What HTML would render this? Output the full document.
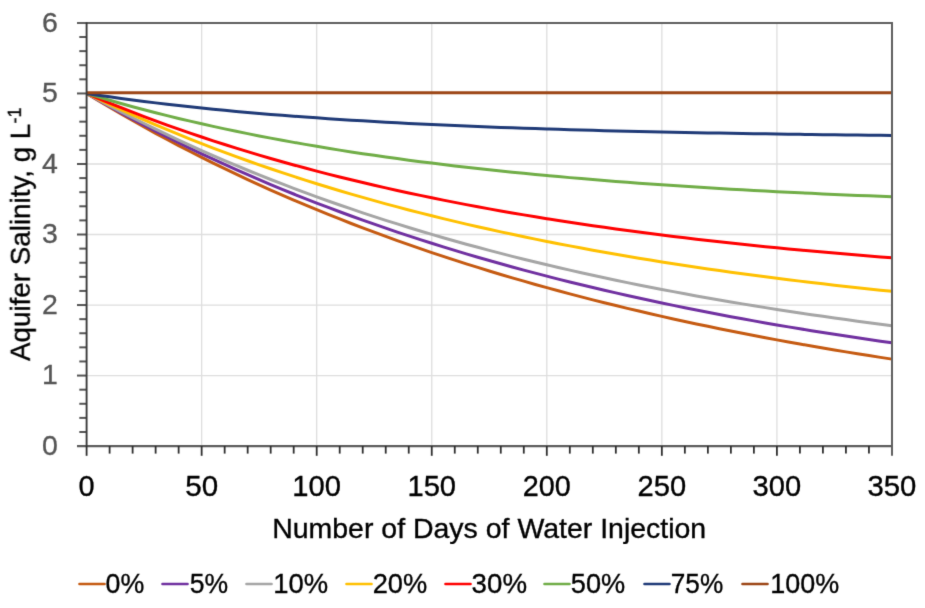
<!DOCTYPE html>
<html><head><meta charset="utf-8"><style>
html,body{margin:0;padding:0;background:#fff;}
svg{display:block;}
text{font-family:"Liberation Sans",sans-serif;}
</style></head><body>
<svg width="925" height="608" viewBox="0 0 925 608">
<defs><filter id="b" x="0" y="0" width="925" height="608" filterUnits="userSpaceOnUse"><feConvolveMatrix color-interpolation-filters="sRGB" order="3" targetX="1" targetY="1" kernelMatrix="0.0113 0.0838 0.0113 0.0838 0.6193 0.0838 0.0113 0.0838 0.0113" edgeMode="duplicate"/></filter></defs>
<rect width="925" height="608" fill="#fff"/>
<g filter="url(#b)">
<g stroke="#DEDEDE" stroke-width="1.3">
<line x1="201.65" y1="23" x2="201.65" y2="446" />
<line x1="316.70" y1="23" x2="316.70" y2="446" />
<line x1="431.75" y1="23" x2="431.75" y2="446" />
<line x1="546.80" y1="23" x2="546.80" y2="446" />
<line x1="661.85" y1="23" x2="661.85" y2="446" />
<line x1="776.90" y1="23" x2="776.90" y2="446" />
<line x1="87" y1="375.57" x2="892" y2="375.57" />
<line x1="87" y1="305.04" x2="892" y2="305.04" />
<line x1="87" y1="234.51" x2="892" y2="234.51" />
<line x1="87" y1="163.98" x2="892" y2="163.98" />
<line x1="87" y1="93.45" x2="892" y2="93.45" />
</g>
<g fill="none" stroke-width="3" stroke-linejoin="round" stroke-linecap="butt">
<path d="M86.60,93.45 L98.10,100.43 L109.61,107.28 L121.11,113.99 L132.62,120.56 L144.12,127.01 L155.63,133.33 L167.13,139.52 L178.64,145.59 L190.14,151.54 L201.65,157.37 L213.16,163.09 L224.66,168.70 L236.16,174.19 L247.67,179.57 L259.18,184.85 L270.68,190.02 L282.19,195.09 L293.69,200.06 L305.20,204.94 L316.70,209.71 L328.21,214.39 L339.71,218.98 L351.22,223.48 L362.72,227.89 L374.23,232.21 L385.73,236.44 L397.24,240.59 L408.74,244.66 L420.25,248.65 L431.75,252.56 L443.25,256.39 L454.76,260.15 L466.26,263.83 L477.77,267.44 L489.27,270.98 L500.78,274.45 L512.28,277.85 L523.79,281.18 L535.30,284.44 L546.80,287.64 L558.31,290.78 L569.81,293.86 L581.32,296.87 L592.82,299.83 L604.33,302.72 L615.83,305.56 L627.34,308.35 L638.84,311.07 L650.35,313.75 L661.85,316.37 L673.36,318.94 L684.86,321.45 L696.37,323.92 L707.87,326.34 L719.38,328.71 L730.88,331.04 L742.39,333.32 L753.89,335.55 L765.40,337.74 L776.90,339.88 L788.41,341.99 L799.91,344.05 L811.42,346.07 L822.92,348.05 L834.43,349.99 L845.93,351.89 L857.44,353.76 L868.94,355.59 L880.45,357.38 L891.95,359.14" stroke="#C55A11"/>
<path d="M86.60,93.45 L98.10,100.05 L109.61,106.51 L121.11,112.85 L132.62,119.06 L144.12,125.14 L155.63,131.11 L167.13,136.95 L178.64,142.68 L190.14,148.29 L201.65,153.79 L213.16,159.18 L224.66,164.46 L236.16,169.63 L247.67,174.70 L259.18,179.67 L270.68,184.54 L282.19,189.31 L293.69,193.99 L305.20,198.57 L316.70,203.06 L328.21,207.46 L339.71,211.77 L351.22,216.00 L362.72,220.14 L374.23,224.20 L385.73,228.18 L397.24,232.07 L408.74,235.89 L420.25,239.63 L431.75,243.30 L443.25,246.90 L454.76,250.42 L466.26,253.87 L477.77,257.25 L489.27,260.56 L500.78,263.81 L512.28,266.99 L523.79,270.11 L535.30,273.17 L546.80,276.16 L558.31,279.10 L569.81,281.98 L581.32,284.79 L592.82,287.56 L604.33,290.26 L615.83,292.91 L627.34,295.51 L638.84,298.06 L650.35,300.56 L661.85,303.00 L673.36,305.40 L684.86,307.75 L696.37,310.05 L707.87,312.30 L719.38,314.51 L730.88,316.68 L742.39,318.80 L753.89,320.88 L765.40,322.92 L776.90,324.92 L788.41,326.88 L799.91,328.79 L811.42,330.67 L822.92,332.52 L834.43,334.32 L845.93,336.09 L857.44,337.82 L868.94,339.52 L880.45,341.19 L891.95,342.82" stroke="#7030A0"/>
<path d="M86.60,93.45 L98.10,99.72 L109.61,105.85 L121.11,111.86 L132.62,117.74 L144.12,123.50 L155.63,129.14 L167.13,134.67 L178.64,140.08 L190.14,145.37 L201.65,150.56 L213.16,155.64 L224.66,160.61 L236.16,165.48 L247.67,170.25 L259.18,174.92 L270.68,179.49 L282.19,183.97 L293.69,188.36 L305.20,192.65 L316.70,196.85 L328.21,200.97 L339.71,205.00 L351.22,208.95 L362.72,212.82 L374.23,216.60 L385.73,220.31 L397.24,223.94 L408.74,227.49 L420.25,230.97 L431.75,234.38 L443.25,237.72 L454.76,240.99 L466.26,244.19 L477.77,247.32 L489.27,250.39 L500.78,253.39 L512.28,256.34 L523.79,259.22 L535.30,262.04 L546.80,264.80 L558.31,267.51 L569.81,270.16 L581.32,272.75 L592.82,275.29 L604.33,277.78 L615.83,280.21 L627.34,282.60 L638.84,284.93 L650.35,287.22 L661.85,289.46 L673.36,291.65 L684.86,293.80 L696.37,295.90 L707.87,297.96 L719.38,299.98 L730.88,301.95 L742.39,303.89 L753.89,305.78 L765.40,307.63 L776.90,309.45 L788.41,311.23 L799.91,312.97 L811.42,314.67 L822.92,316.34 L834.43,317.98 L845.93,319.58 L857.44,321.14 L868.94,322.68 L880.45,324.18 L891.95,325.65" stroke="#A5A5A5"/>
<path d="M86.60,93.45 L98.10,98.99 L109.61,104.41 L121.11,109.70 L132.62,114.88 L144.12,119.94 L155.63,124.90 L167.13,129.74 L178.64,134.47 L190.14,139.10 L201.65,143.63 L213.16,148.06 L224.66,152.39 L236.16,156.62 L247.67,160.76 L259.18,164.81 L270.68,168.77 L282.19,172.64 L293.69,176.42 L305.20,180.12 L316.70,183.74 L328.21,187.28 L339.71,190.74 L351.22,194.12 L362.72,197.43 L374.23,200.67 L385.73,203.83 L397.24,206.92 L408.74,209.95 L420.25,212.91 L431.75,215.80 L443.25,218.63 L454.76,221.39 L466.26,224.10 L477.77,226.74 L489.27,229.33 L500.78,231.86 L512.28,234.33 L523.79,236.75 L535.30,239.11 L546.80,241.42 L558.31,243.68 L569.81,245.90 L581.32,248.06 L592.82,250.17 L604.33,252.24 L615.83,254.26 L627.34,256.23 L638.84,258.17 L650.35,260.06 L661.85,261.90 L673.36,263.71 L684.86,265.48 L696.37,267.21 L707.87,268.90 L719.38,270.55 L730.88,272.16 L742.39,273.74 L753.89,275.29 L765.40,276.80 L776.90,278.28 L788.41,279.72 L799.91,281.13 L811.42,282.51 L822.92,283.86 L834.43,285.18 L845.93,286.47 L857.44,287.74 L868.94,288.97 L880.45,290.18 L891.95,291.36" stroke="#FFC000"/>
<path d="M86.60,93.45 L98.10,98.30 L109.61,103.04 L121.11,107.66 L132.62,112.17 L144.12,116.57 L155.63,120.86 L167.13,125.05 L178.64,129.13 L190.14,133.12 L201.65,137.01 L213.16,140.81 L224.66,144.52 L236.16,148.13 L247.67,151.66 L259.18,155.10 L270.68,158.46 L282.19,161.74 L293.69,164.94 L305.20,168.06 L316.70,171.11 L328.21,174.08 L339.71,176.98 L351.22,179.81 L362.72,182.57 L374.23,185.26 L385.73,187.89 L397.24,190.46 L408.74,192.96 L420.25,195.40 L431.75,197.79 L443.25,200.11 L454.76,202.38 L466.26,204.60 L477.77,206.76 L489.27,208.86 L500.78,210.92 L512.28,212.93 L523.79,214.89 L535.30,216.80 L546.80,218.66 L558.31,220.48 L569.81,222.26 L581.32,223.99 L592.82,225.68 L604.33,227.33 L615.83,228.94 L627.34,230.51 L638.84,232.05 L650.35,233.54 L661.85,235.00 L673.36,236.43 L684.86,237.82 L696.37,239.17 L707.87,240.50 L719.38,241.79 L730.88,243.05 L742.39,244.28 L753.89,245.48 L765.40,246.65 L776.90,247.79 L788.41,248.90 L799.91,249.99 L811.42,251.05 L822.92,252.09 L834.43,253.10 L845.93,254.08 L857.44,255.05 L868.94,255.98 L880.45,256.90 L891.95,257.79" stroke="#FF0000"/>
<path d="M86.60,93.45 L98.10,96.91 L109.61,100.26 L121.11,103.52 L132.62,106.68 L144.12,109.75 L155.63,112.73 L167.13,115.62 L178.64,118.43 L190.14,121.16 L201.65,123.80 L213.16,126.37 L224.66,128.86 L236.16,131.28 L247.67,133.63 L259.18,135.91 L270.68,138.13 L282.19,140.28 L293.69,142.36 L305.20,144.39 L316.70,146.35 L328.21,148.26 L339.71,150.11 L351.22,151.91 L362.72,153.65 L374.23,155.35 L385.73,156.99 L397.24,158.59 L408.74,160.14 L420.25,161.64 L431.75,163.10 L443.25,164.52 L454.76,165.89 L466.26,167.23 L477.77,168.53 L489.27,169.78 L500.78,171.01 L512.28,172.19 L523.79,173.34 L535.30,174.46 L546.80,175.54 L558.31,176.60 L569.81,177.62 L581.32,178.61 L592.82,179.57 L604.33,180.51 L615.83,181.42 L627.34,182.30 L638.84,183.15 L650.35,183.98 L661.85,184.79 L673.36,185.57 L684.86,186.33 L696.37,187.06 L707.87,187.78 L719.38,188.47 L730.88,189.15 L742.39,189.80 L753.89,190.44 L765.40,191.05 L776.90,191.65 L788.41,192.23 L799.91,192.80 L811.42,193.34 L822.92,193.88 L834.43,194.39 L845.93,194.89 L857.44,195.38 L868.94,195.85 L880.45,196.31 L891.95,196.75" stroke="#70AD47"/>
<path d="M86.60,93.45 L98.10,95.18 L109.61,96.84 L121.11,98.44 L132.62,99.98 L144.12,101.46 L155.63,102.88 L167.13,104.24 L178.64,105.56 L190.14,106.82 L201.65,108.03 L213.16,109.20 L224.66,110.32 L236.16,111.40 L247.67,112.44 L259.18,113.43 L270.68,114.39 L282.19,115.31 L293.69,116.20 L305.20,117.05 L316.70,117.87 L328.21,118.66 L339.71,119.41 L351.22,120.14 L362.72,120.84 L374.23,121.51 L385.73,122.16 L397.24,122.78 L408.74,123.38 L420.25,123.95 L431.75,124.50 L443.25,125.03 L454.76,125.54 L466.26,126.04 L477.77,126.51 L489.27,126.96 L500.78,127.40 L512.28,127.82 L523.79,128.22 L535.30,128.61 L546.80,128.98 L558.31,129.34 L569.81,129.68 L581.32,130.01 L592.82,130.33 L604.33,130.63 L615.83,130.93 L627.34,131.21 L638.84,131.48 L650.35,131.74 L661.85,132.00 L673.36,132.24 L684.86,132.47 L696.37,132.69 L707.87,132.91 L719.38,133.11 L730.88,133.31 L742.39,133.50 L753.89,133.69 L765.40,133.86 L776.90,134.03 L788.41,134.19 L799.91,134.35 L811.42,134.50 L822.92,134.65 L834.43,134.79 L845.93,134.92 L857.44,135.05 L868.94,135.17 L880.45,135.29 L891.95,135.40" stroke="#1F3A77"/>
<path d="M86.60,92.85 L891.95,92.85" stroke="#9C4616"/>
</g>
<g stroke="#5F5F5F" stroke-width="2" fill="none">
<path d="M77,23 L892,23 L892,455.8"/>
</g>
<g stroke="#545454" stroke-width="2">
<line x1="79.3" y1="431.99" x2="86.6" y2="431.99"/>
<line x1="79.3" y1="417.89" x2="86.6" y2="417.89"/>
<line x1="79.3" y1="403.78" x2="86.6" y2="403.78"/>
<line x1="79.3" y1="389.68" x2="86.6" y2="389.68"/>
<line x1="77.0" y1="375.57" x2="86.6" y2="375.57"/>
<line x1="79.3" y1="361.46" x2="86.6" y2="361.46"/>
<line x1="79.3" y1="347.36" x2="86.6" y2="347.36"/>
<line x1="79.3" y1="333.25" x2="86.6" y2="333.25"/>
<line x1="79.3" y1="319.15" x2="86.6" y2="319.15"/>
<line x1="77.0" y1="305.04" x2="86.6" y2="305.04"/>
<line x1="79.3" y1="290.93" x2="86.6" y2="290.93"/>
<line x1="79.3" y1="276.83" x2="86.6" y2="276.83"/>
<line x1="79.3" y1="262.72" x2="86.6" y2="262.72"/>
<line x1="79.3" y1="248.62" x2="86.6" y2="248.62"/>
<line x1="77.0" y1="234.51" x2="86.6" y2="234.51"/>
<line x1="79.3" y1="220.40" x2="86.6" y2="220.40"/>
<line x1="79.3" y1="206.30" x2="86.6" y2="206.30"/>
<line x1="79.3" y1="192.19" x2="86.6" y2="192.19"/>
<line x1="79.3" y1="178.09" x2="86.6" y2="178.09"/>
<line x1="77.0" y1="163.98" x2="86.6" y2="163.98"/>
<line x1="79.3" y1="149.87" x2="86.6" y2="149.87"/>
<line x1="79.3" y1="135.77" x2="86.6" y2="135.77"/>
<line x1="79.3" y1="121.66" x2="86.6" y2="121.66"/>
<line x1="79.3" y1="107.56" x2="86.6" y2="107.56"/>
<line x1="77.0" y1="93.45" x2="86.6" y2="93.45"/>
<line x1="79.3" y1="79.34" x2="86.6" y2="79.34"/>
<line x1="79.3" y1="65.24" x2="86.6" y2="65.24"/>
<line x1="79.3" y1="51.13" x2="86.6" y2="51.13"/>
<line x1="79.3" y1="37.03" x2="86.6" y2="37.03"/>
<line x1="77" y1="446.1" x2="892" y2="446.1" stroke="#5C5C5C" stroke-width="2.2"/>
</g>
<g stroke="#2E2E2E" stroke-width="1.8">
<line x1="109.61" y1="446" x2="109.61" y2="453.6"/>
<line x1="132.62" y1="446" x2="132.62" y2="453.6"/>
<line x1="155.63" y1="446" x2="155.63" y2="453.6"/>
<line x1="178.64" y1="446" x2="178.64" y2="453.6"/>
<line x1="201.65" y1="446" x2="201.65" y2="455.8"/>
<line x1="224.66" y1="446" x2="224.66" y2="453.6"/>
<line x1="247.67" y1="446" x2="247.67" y2="453.6"/>
<line x1="270.68" y1="446" x2="270.68" y2="453.6"/>
<line x1="293.69" y1="446" x2="293.69" y2="453.6"/>
<line x1="316.70" y1="446" x2="316.70" y2="455.8"/>
<line x1="339.71" y1="446" x2="339.71" y2="453.6"/>
<line x1="362.72" y1="446" x2="362.72" y2="453.6"/>
<line x1="385.73" y1="446" x2="385.73" y2="453.6"/>
<line x1="408.74" y1="446" x2="408.74" y2="453.6"/>
<line x1="431.75" y1="446" x2="431.75" y2="455.8"/>
<line x1="454.76" y1="446" x2="454.76" y2="453.6"/>
<line x1="477.77" y1="446" x2="477.77" y2="453.6"/>
<line x1="500.78" y1="446" x2="500.78" y2="453.6"/>
<line x1="523.79" y1="446" x2="523.79" y2="453.6"/>
<line x1="546.80" y1="446" x2="546.80" y2="455.8"/>
<line x1="569.81" y1="446" x2="569.81" y2="453.6"/>
<line x1="592.82" y1="446" x2="592.82" y2="453.6"/>
<line x1="615.83" y1="446" x2="615.83" y2="453.6"/>
<line x1="638.84" y1="446" x2="638.84" y2="453.6"/>
<line x1="661.85" y1="446" x2="661.85" y2="455.8"/>
<line x1="684.86" y1="446" x2="684.86" y2="453.6"/>
<line x1="707.87" y1="446" x2="707.87" y2="453.6"/>
<line x1="730.88" y1="446" x2="730.88" y2="453.6"/>
<line x1="753.89" y1="446" x2="753.89" y2="453.6"/>
<line x1="776.90" y1="446" x2="776.90" y2="455.8"/>
<line x1="799.91" y1="446" x2="799.91" y2="453.6"/>
<line x1="822.92" y1="446" x2="822.92" y2="453.6"/>
<line x1="845.93" y1="446" x2="845.93" y2="453.6"/>
<line x1="868.94" y1="446" x2="868.94" y2="453.6"/>
<line x1="86.6" y1="455.8" x2="86.6" y2="446"/>
</g>
<line x1="86.6" y1="22.2" x2="86.6" y2="446.1" stroke="#3A3A3A" stroke-width="1.9"/>
<g font-size="28.5" fill="#555" stroke="#555" stroke-width="0.3" text-anchor="end">
<text x="57.8" y="454.7">0</text>
<text x="57.8" y="384.2">1</text>
<text x="57.8" y="313.6">2</text>
<text x="57.8" y="243.1">3</text>
<text x="57.8" y="172.6">4</text>
<text x="57.8" y="102.1">5</text>
<text x="57.8" y="31.5">6</text>
</g>
<g font-size="29.5" fill="#000" stroke="#000" stroke-width="0.35" text-anchor="middle">
<text x="86.60" y="495.8" textLength="16.1" lengthAdjust="spacingAndGlyphs">0</text>
<text x="201.65" y="495.8" textLength="32.9" lengthAdjust="spacingAndGlyphs">50</text>
<text x="316.70" y="495.8" textLength="48.7" lengthAdjust="spacingAndGlyphs">100</text>
<text x="431.75" y="495.8" textLength="48.6" lengthAdjust="spacingAndGlyphs">150</text>
<text x="546.80" y="495.8" textLength="48.1" lengthAdjust="spacingAndGlyphs">200</text>
<text x="661.85" y="495.8" textLength="48.6" lengthAdjust="spacingAndGlyphs">250</text>
<text x="776.90" y="495.8" textLength="48.6" lengthAdjust="spacingAndGlyphs">300</text>
<text x="891.95" y="495.8" textLength="48.9" lengthAdjust="spacingAndGlyphs">350</text>
</g>
<text x="489.2" y="537.5" font-size="28.5" fill="#000" stroke="#000" stroke-width="0.35" text-anchor="middle" textLength="434" lengthAdjust="spacingAndGlyphs">Number of Days of Water Injection</text>
<g transform="translate(29.8,361) rotate(-90)" fill="#000" stroke="#000" stroke-width="0.35"><text font-size="28.5" textLength="237.3" lengthAdjust="spacingAndGlyphs">Aquifer Salinity, g L</text><text x="237.6" y="-8.9" font-size="18">-1</text></g>
<g font-size="28.5" fill="#000" stroke="#000" stroke-width="0.35">
<line x1="79.5" y1="584.0" x2="104.5" y2="584.0" stroke="#C55A11" stroke-width="2.6" stroke-linecap="round"/>
<text x="105.5" y="593" textLength="38.7" lengthAdjust="spacingAndGlyphs">0%</text>
<line x1="162.5" y1="584.0" x2="187.5" y2="584.0" stroke="#7030A0" stroke-width="2.6" stroke-linecap="round"/>
<text x="189.8" y="593" textLength="38.4" lengthAdjust="spacingAndGlyphs">5%</text>
<line x1="246.5" y1="584.0" x2="271.5" y2="584.0" stroke="#A5A5A5" stroke-width="2.6" stroke-linecap="round"/>
<text x="273.3" y="593" textLength="54.9" lengthAdjust="spacingAndGlyphs">10%</text>
<line x1="346.5" y1="584.0" x2="371.5" y2="584.0" stroke="#FFC000" stroke-width="2.6" stroke-linecap="round"/>
<text x="372.7" y="593" textLength="54.5" lengthAdjust="spacingAndGlyphs">20%</text>
<line x1="445.5" y1="584.0" x2="470.5" y2="584.0" stroke="#FF0000" stroke-width="2.6" stroke-linecap="round"/>
<text x="471.6" y="593" textLength="55.4" lengthAdjust="spacingAndGlyphs">30%</text>
<line x1="544.5" y1="584.0" x2="569.5" y2="584.0" stroke="#70AD47" stroke-width="2.6" stroke-linecap="round"/>
<text x="570.8" y="593" textLength="54.4" lengthAdjust="spacingAndGlyphs">50%</text>
<line x1="644.5" y1="584.0" x2="669.5" y2="584.0" stroke="#1F3A77" stroke-width="2.6" stroke-linecap="round"/>
<text x="670.8" y="593" textLength="52.4" lengthAdjust="spacingAndGlyphs">75%</text>
<line x1="742.5" y1="584.0" x2="767.5" y2="584.0" stroke="#9C4616" stroke-width="2.6" stroke-linecap="round"/>
<text x="770.3" y="593" textLength="68.9" lengthAdjust="spacingAndGlyphs">100%</text>
</g>
</g>
</svg>
</body></html>
